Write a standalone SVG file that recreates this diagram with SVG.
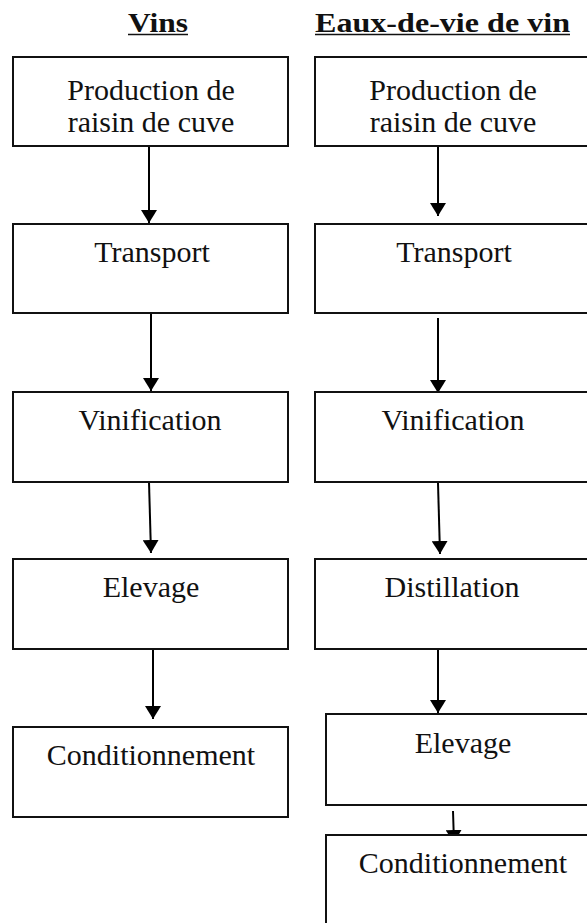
<svg xmlns="http://www.w3.org/2000/svg" width="587" height="923" viewBox="0 0 587 923">
<style>
.box{fill:#fff;stroke:#111;stroke-width:2}
.t{font-family:"Liberation Serif","Times New Roman",serif;font-size:30px;fill:#111;text-anchor:middle}
.h{font-family:"Liberation Serif","Times New Roman",serif;font-size:27px;font-weight:bold;fill:#111}
.ul{stroke:#111;stroke-width:1.6}
.c{stroke:#000;stroke-width:2;fill:none;marker-end:url(#ah)}
</style>
<defs>
<marker id="ah" markerUnits="userSpaceOnUse" markerWidth="13" markerHeight="16" viewBox="0 0 13 16" refX="13" refY="8" orient="auto">
<path d="M0,0 L13,8 L0,16 z" fill="#000"/>
</marker>
</defs>
<g id="titles">
<text class="h" x="128" y="32" textLength="60" lengthAdjust="spacingAndGlyphs">Vins</text>
<line class="ul" x1="128" y1="34.5" x2="188" y2="34.5"/>
<text class="h" x="315" y="32" textLength="255" lengthAdjust="spacingAndGlyphs">Eaux-de-vie de vin</text>
<line class="ul" x1="315" y1="34.5" x2="570" y2="34.5"/>
</g>
<g id="connectors">
<line class="c" x1="149" y1="146" x2="149" y2="223"/>
<line class="c" x1="151" y1="313" x2="151" y2="391"/>
<line class="c" x1="149" y1="482" x2="151" y2="553"/>
<line class="c" x1="153" y1="649" x2="153" y2="719"/>
<line class="c" x1="438" y1="146" x2="438" y2="216"/>
<line class="c" x1="438" y1="318" x2="438" y2="393"/>
<line class="c" x1="438" y1="483" x2="440" y2="554"/>
<line class="c" x1="438" y1="649" x2="438" y2="713"/>
<line class="c" x1="453" y1="811" x2="454" y2="843"/>
</g>
<g id="v1"><rect class="box" x="13" y="57" width="275" height="89"/><text class="t" x="151" y="100">Production de</text><text class="t" x="151" y="132">raisin de cuve</text></g>
<g id="v2"><rect class="box" x="13" y="224" width="275" height="89"/><text class="t" x="152" y="262">Transport</text></g>
<g id="v3"><rect class="box" x="13" y="392" width="275" height="90"/><text class="t" x="150" y="430">Vinification</text></g>
<g id="v4"><rect class="box" x="13" y="559" width="275" height="90"/><text class="t" x="151" y="597">Elevage</text></g>
<g id="v5"><rect class="box" x="13" y="727" width="275" height="90"/><text class="t" x="151" y="765">Conditionnement</text></g>
<g id="e1"><rect class="box" x="315" y="57" width="278" height="89"/><text class="t" x="453" y="100">Production de</text><text class="t" x="453" y="132">raisin de cuve</text></g>
<g id="e2"><rect class="box" x="315" y="224" width="278" height="89"/><text class="t" x="454" y="262">Transport</text></g>
<g id="e3"><rect class="box" x="315" y="392" width="278" height="90"/><text class="t" x="453" y="430">Vinification</text></g>
<g id="e4"><rect class="box" x="315" y="559" width="278" height="90"/><text class="t" x="452" y="597">Distillation</text></g>
<g id="e5"><rect class="box" x="326" y="714" width="278" height="91"/><text class="t" x="463" y="753">Elevage</text></g>
<g id="e6"><rect class="box" x="326" y="835" width="278" height="100"/><text class="t" x="463" y="873">Conditionnement</text></g>
</svg>
